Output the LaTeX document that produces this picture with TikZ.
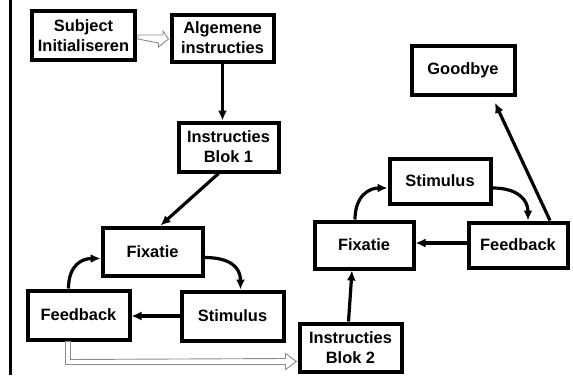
\documentclass[tikz,border=0pt]{standalone}
\usepackage{fontspec}
\setmainfont{Liberation Sans}
\usetikzlibrary{arrows.meta,calc}
\begin{document}
\begin{tikzpicture}[x=1pt,y=-1pt,
  stepbox/.style={draw=black,line width=4pt,fill=white,inner sep=0pt,
    align=center,font=\bfseries\fontsize{16.4}{20}\selectfont,
    minimum width=#1},
  stepbox/.default=100pt,
  flow/.style={line width=3.2pt,-{Latex[length=10pt,width=9pt]}},
  hollow/.style={draw=black!45,line width=0.9pt,fill=white,line join=miter}]
\useasboundingbox (0,0) rectangle (573,375);
\fill[white] (0,0) rectangle (573,375);

% margin rule on the left
\draw[line width=2.4pt] (10.5,0) -- (10.5,375);

% first block
\node[stepbox=103pt,minimum height=49pt] (subj) at (83.5,35.5) {Subject\\Initialiseren};
\node[stepbox=102pt,minimum height=47pt] (alg)  at (222.5,38) {Algemene\\instructies};
\node[stepbox=100pt,minimum height=49pt] (blok1) at (228.5,147) {Instructies\\Blok 1};
\node[stepbox=100pt,minimum height=48pt] (fix1) at (152.5,251.5) {Fixatie};
\node[stepbox=102pt,minimum height=49pt] (fb1)  at (78.5,315) {Feedback};
\node[stepbox=102pt,minimum height=49pt] (stim1) at (232.5,316) {Stimulus};

% second block
\node[stepbox=103pt,minimum height=49pt] (good) at (463,70) {Goodbye};
\node[stepbox=101pt,minimum height=45pt] (stim2) at (440,181) {Stimulus};
\node[stepbox=99pt,minimum height=47pt] (fix2) at (364,245) {Fixatie};
\node[stepbox=99pt,minimum height=45pt] (fb2)  at (518,245) {Feedback};
\node[stepbox=102pt,minimum height=48pt] (blok2) at (350.5,347.5) {Instructies\\Blok 2};

% hollow arrow: Subject -> Algemene
\coordinate (h0) at ($(subj.east)+(1,3.5)$);
\coordinate (h1) at ($(alg.west)+(-1,1)$);
\path[hollow] ($(subj.east)+(1,-0.5)$) -- ++(25,0) -- ++(0,-4)
  -- (h1) -- ++(-10,8) -- ++(0,-4) -- (h0 -| {$(subj.east)+(1,0)$}) -- cycle;

% hollow elbow arrow: Feedback -> Instructies Blok 2
\coordinate (e0) at ($(fb1.south)+(-8,0)$);
\coordinate (e1) at ($(blok2.west)+(-1,14)$);
\path[hollow] (e0) -- ($(e0)+(0,18)$) -- ($(e1)+(-11,-3)$) -- ($(e1)+(-11,-8)$)
  -- (e1) -- ($(e1)+(-11,8)$) -- ($(e1)+(-11,3)$) -- ($(e0)+(-5,23)$)
  -- ($(e0)+(-5,0)$) -- cycle;

% connectors, first block
\draw[flow] (alg.south) -- (alg.south |- blok1.north);
\draw[flow] ([xshift=-10pt]blok1.south) -- ([xshift=8pt]fix1.north);
\draw[flow] ([yshift=-6pt]fix1.east) .. controls +(26,0) and +(0,-22) .. ([xshift=8pt]stim1.north);
\draw[flow] (stim1.west) -- (stim1.west -| fb1.east);
\draw[flow] ([xshift=-10pt]fb1.north) .. controls +(0,-24) and +(-18,0) .. ([yshift=-7pt]fix1.west);

% connectors, second block
\draw[flow] ([xshift=-2pt]blok2.north) -- ([xshift=-12pt]fix2.south);
\draw[flow] ([yshift=2pt]fb2.west) -- ([yshift=2pt]fb2.west -| fix2.east);
\draw[flow] ([xshift=-9pt]fix2.north) .. controls +(0,-24) and +(-18,0) .. ([yshift=-7pt]stim2.west);
\draw[flow] ([yshift=-7pt]stim2.east) .. controls +(26,0) and +(0,-20) .. ([xshift=10pt]fb2.north);
\draw[flow,shorten >=7pt] ([xshift=32pt]fb2.north) -- ([xshift=29pt]good.south);
\end{tikzpicture}
\end{document}
